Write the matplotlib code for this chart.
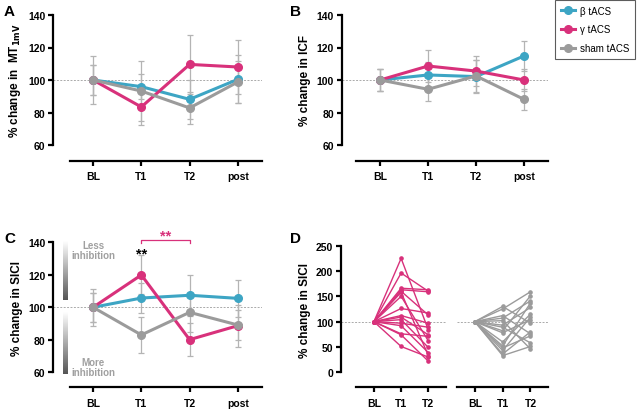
import numpy as np
import matplotlib
matplotlib.use("Agg")
import matplotlib.pyplot as plt

plt.rcParams['font.family'] = ['Liberation Sans', 'DejaVu Sans']
plt.rcParams['font.weight'] = 'bold'

BLUE = '#3DA5C4'
PINK = '#D8317B'
GRAY = '#9B9B9B'
ECOL = '#B4B4B4'

times = ['BL', 'T1', 'T2', 'post']
series = ['β tACS', 'γ tACS', 'sham tACS']

# Panel A: MT1mV
mt_beta = [100, 95.9, 88.1, 100.4]
mt_gamma = [100, 83.4, 109.6, 108.0]
mt_sham = [100, 93.2, 82.8, 98.8]
mt_beta_err = [9, 7.6, 12, 14.8]
mt_gamma_err = [9, 11, 18, 16.6]
mt_sham_err = [15, 18.5, 9.6, 12.8]

# Panel B: ICF
icf_beta = [100, 103.1, 102.1, 114.8]
icf_gamma = [100, 108.6, 105.5, 100.0]
icf_sham = [100, 94.3, 102.5, 88.1]
icf_beta_err = [7, 8, 10, 9]
icf_gamma_err = [7, 10, 9, 7]
icf_sham_err = [7, 7.3, 10, 6.6]

# Panel C: SICI
sici_beta = [100, 105.7, 107.4, 105.5]
sici_gamma = [100, 119.9, 80.1, 88.7]
sici_sham = [100, 83.0, 96.9, 89.1]
sici_beta_err = [8.8, 9, 12.5, 11.5]
sici_gamma_err = [8.8, 12, 10, 13]
sici_sham_err = [11.3, 11, 12, 9]

# Panel D: individual SICI
d_times = ['BL', 'T1', 'T2']
gamma_t1 = [225, 196, 166, 163, 160, 158, 150, 126, 112, 109, 104, 97, 92, 76, 74, 51]
gamma_t2 = [84, 160, 163, 159, 113, 33, 62, 117, 97, 74, 49, 89, 39, 71, 22, 30]
sham_t1 = [130, 125, 112, 107, 102, 93, 89, 82, 78, 60, 52, 48, 43, 36, 33]
sham_t2 = [97, 159, 76, 141, 46, 128, 58, 151, 104, 115, 137, 72, 109, 80, 51]

W, H = 640, 410
fig = plt.figure(figsize=(6.4, 4.1), dpi=100)


def rect(l, r, top, bot):
    return [l / W, 1 - bot / H, (r - l) / W, (bot - top) / H]


def style_axis(ax, xlim, xbounds, ylim, yticks, xticks, xlabels, offset_px):
    ax.set_xlim(*xlim)
    ax.set_ylim(*ylim)
    for s in ['top', 'right']:
        ax.spines[s].set_visible(False)
    ax.spines['left'].set_linewidth(1.6)
    ax.spines['bottom'].set_linewidth(1.6)
    ax.spines['bottom'].set_position(('outward', offset_px * 72 / 100))
    ax.spines['bottom'].set_bounds(*xbounds)
    ax.set_yticks(yticks)
    ax.set_xticks(xticks)
    ax.set_xticklabels(xlabels)
    ax.tick_params(axis='both', width=1.6, length=3.5, labelsize=7.5, pad=2)
    ax.tick_params(axis='x', pad=4)
    for lab in ax.get_xticklabels() + ax.get_yticklabels():
        lab.set_fontweight('bold')


def group_panel(ax, data, errs, ylabel):
    x = np.arange(len(times))
    ax.axhline(100, color='#AAAAAA', lw=0.7, ls=(0, (2, 1.5)), zorder=0)
    for vals, err in zip(data, errs):
        ax.errorbar(x, vals, yerr=err, fmt='none', ecolor=ECOL, elinewidth=0.9,
                    capsize=2, capthick=0.9, zorder=1, clip_on=False)
    handles = []
    for vals, col, name in zip(data, [BLUE, PINK, GRAY], series):
        h, = ax.plot(x, vals, '-o', color=col, lw=2.2, ms=5.5, label=name,
                     zorder=3, clip_on=False)
        handles.append(h)
    ax.set_ylabel(ylabel, fontsize=8.5, fontweight='bold', labelpad=4)
    return handles


# Panel A
axA = fig.add_axes(rect(53, 262, 16, 146))
hs = group_panel(axA, [mt_beta, mt_gamma, mt_sham],
                 [mt_beta_err, mt_gamma_err, mt_sham_err],
                 '% change in  MT$_{\\mathbf{1mV}}$')
style_axis(axA, (-0.83, 3.5), (-0.47, 3.5), (60, 140), [60, 80, 100, 120, 140],
           range(4), times, 16)

# Panel B
axB = fig.add_axes(rect(341.7, 548, 16, 146))
group_panel(axB, [icf_beta, icf_gamma, icf_sham],
            [icf_beta_err, icf_gamma_err, icf_sham_err], '% change in ICF')
style_axis(axB, (-0.8, 3.5), (-0.5, 3.5), (60, 140), [60, 80, 100, 120, 140],
           range(4), times, 16)

# Panel C
axC = fig.add_axes(rect(53, 262, 243.3, 373.3))
group_panel(axC, [sici_beta, sici_gamma, sici_sham],
            [sici_beta_err, sici_gamma_err, sici_sham_err], '% change in SICI')
style_axis(axC, (-0.83, 3.5), (-0.47, 3.5), (60, 140), [60, 80, 100, 120, 140],
           range(4), times, 15)
grad = np.linspace(1, 0, 256).reshape(-1, 1)
cmap = matplotlib.colors.LinearSegmentedColormap.from_list('g', ['#FFFFFF', '#555555'])
axC.imshow(1 - grad, extent=(-0.62, -0.52, 104.7, 141), aspect='auto', cmap=cmap,
           origin='upper', clip_on=False, zorder=0)
axC.imshow(1 - grad, extent=(-0.62, -0.52, 59, 96.9), aspect='auto', cmap=cmap,
           origin='upper', clip_on=False, zorder=0)
axC.set_xlim(-0.83, 3.5)
axC.set_ylim(60, 140)
axC.text(0, 135.5, 'Less\ninhibition', ha='center', va='center', fontsize=7,
         color='#A0A0A0', fontweight='bold', linespacing=1.0)
axC.text(0, 63.5, 'More\ninhibition', ha='center', va='center', fontsize=7,
         color='#A0A0A0', fontweight='bold', linespacing=1.0)
axC.text(1, 133.0, '**', ha='center', va='center', fontsize=10.5, color='black',
         fontweight='bold')
axC.plot([1, 1, 2, 2], [139.5, 141.5, 141.5, 139.5], color=PINK, lw=0.9,
         clip_on=False)
axC.text(1.5, 144.0, '**', ha='center', va='center', fontsize=10.5, color=PINK,
         fontweight='bold', clip_on=False)

# Panel D
axD1 = fig.add_axes(rect(341, 446, 246.7, 373.3))
axD2 = fig.add_axes(rect(457, 548, 246.7, 373.3))
for ax, t1, t2, col in [(axD1, gamma_t1, gamma_t2, PINK), (axD2, sham_t1, sham_t2, GRAY)]:
    ax.axhline(100, color='#AAAAAA', lw=0.7, ls=(0, (2, 1.5)), zorder=0)
    for a, b in zip(t1, t2):
        ax.plot([0, 1, 2], [100, a, b], '-o', color=col, lw=1.0, ms=2.3, zorder=2)
style_axis(axD1, (-1.21, 2.65), (-0.66, 2.65), (0, 250), [0, 50, 100, 150, 200, 250],
           range(3), d_times, 15)
style_axis(axD2, (-0.64, 2.63), (-0.64, 2.63), (0, 250), [0, 50, 100, 150, 200, 250],
           range(3), d_times, 15)
axD2.spines['left'].set_visible(False)
axD2.tick_params(axis='y', left=False, labelleft=False)
axD1.set_ylabel('% change in SICI', fontsize=8.5, fontweight='bold', labelpad=4)

# Panel letters
for lab, x, y in [('A', 4, 12), ('B', 290, 12), ('C', 4, 239), ('D', 290, 239)]:
    fig.text(x / W, 1 - y / H, lab, fontsize=11, fontweight='bold', va='center',
             ha='left')

# Legend
leg = fig.legend(handles=hs, labels=series, loc='upper left',
                 bbox_to_anchor=(555 / W, 0.998), frameon=True, fontsize=7,
                 handlelength=1.5, borderpad=0.6, labelspacing=0.9, handletextpad=0.5,
                 borderaxespad=0, fancybox=False, edgecolor='#333333')
leg.get_frame().set_linewidth(0.8)
for t in leg.get_texts():
    t.set_fontweight('normal')

fig.savefig('out.png', dpi=100)
